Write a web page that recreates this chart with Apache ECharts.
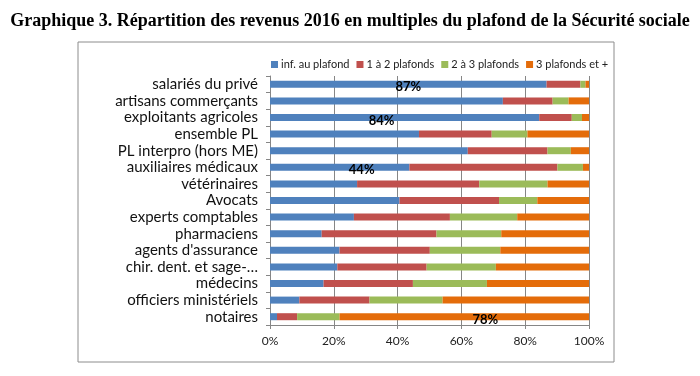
<!DOCTYPE html>
<html>
<head>
<meta charset="utf-8">
<script src="https://cdn.jsdelivr.net/npm/echarts@6/dist/echarts.min.js"></script>
<style>
  html, body { margin: 0; padding: 0; background: #fff; }
  #chart { width: 700px; height: 376px; }
</style>
</head>
<body>
<div id="chart"></div>
<script>
var categories = ['salariés du privé', 'artisans commerçants', 'exploitants agricoles', 'ensemble PL',
  'PL interpro (hors ME)', 'auxiliaires médicaux', 'vétérinaires', 'Avocats', 'experts comptables',
  'pharmaciens', "agents d'assurance", 'chir. dent. et sage-…', 'médecins', 'officiers ministériels', 'notaires'];

var infPlafond   = [86.7, 73.0, 84.4, 46.7, 62.0, 43.7, 27.3, 40.6, 26.3, 16.2, 21.8, 21.1, 16.8, 9.2, 2.2];
var un2Plafonds  = [10.6, 15.6, 10.2, 22.8, 25.0, 46.4, 38.3, 31.2, 30.1, 36.0, 28.3, 28.0, 28.0, 22.0, 6.3];
var deux3Plafonds = [1.6, 5.0, 3.2, 11.2, 7.3, 8.0, 21.4, 12.0, 21.1, 20.3, 22.1, 21.7, 23.2, 22.9, 13.3];
var troisPlus    = [1.1, 6.4, 2.2, 19.3, 5.7, 1.9, 13.0, 16.2, 22.5, 27.5, 27.8, 29.2, 32.0, 45.9, 78.2];

var seriesNames = ['inf. au plafond', '1 à 2 plafonds', '2 à 3 plafonds', '3 plafonds et +'];
var colors = ['#4F81BD', '#C0504D', '#9BBB59', '#E46C0A'];

// which cells carry a percentage label (series index, category index, horizontal shift)
var labelled = [[0, 0, 0], [0, 2, -23], [0, 5, 22], [3, 14, 21]];

var chart = echarts.init(document.getElementById('chart'));

function buildData(values, s) {
  return values.map(function (v, i) {
    var hit = labelled.filter(function (l) { return l[0] === s && l[1] === i; })[0];
    if (!hit) return v;
    return {
      value: v,
      label: {
        show: true,
        position: 'inside',
        offset: [hit[2], 3],
        formatter: Math.round(v) + '%',
        color: '#000',
        fontFamily: 'Lato',
        fontWeight: 'bold',
        fontSize: 13
      }
    };
  });
}

var allValues = [infPlafond, un2Plafonds, deux3Plafonds, troisPlus];

var hiddenAxis = { show: false, gridIndex: 1, type: 'value', min: 0, max: 1 };

var option = {
  animation: false,
  title: {
    text: 'Graphique 3. Répartition des revenus 2016 en multiples du plafond de la Sécurité sociale',
    left: 'center',
    top: 7,
    textStyle: {
      fontFamily: 'Liberation Serif',
      fontWeight: 'bold',
      fontSize: 18,
      color: '#000'
    }
  },
  legend: {
    data: seriesNames,
    left: 266,
    top: 54,
    itemWidth: 7,
    itemHeight: 7,
    itemGap: 7,
    icon: 'rect',
    textStyle: { fontFamily: 'Lato', fontSize: 11, color: '#222', padding: [0, 0, 0, -2] }
  },
  grid: [{
    left: 270,
    right: 111,
    top: 76,
    bottom: 51
  }, {
    // outer chart-area frame
    left: 78,
    top: 42,
    width: 536,
    height: 320,
    show: true,
    backgroundColor: 'transparent',
    borderColor: '#8c8c8c',
    borderWidth: 1,
    z: 0
  }],
  xAxis: [{
    type: 'value',
    min: 0,
    max: 100,
    interval: 20,
    axisLabel: {
      formatter: '{value}%',
      fontFamily: 'Lato',
      fontSize: 12,
      color: '#222',
      margin: 10
    },
    axisLine: { show: true, lineStyle: { color: '#868686' } },
    axisTick: { show: true, length: 4, lineStyle: { color: '#868686' } },
    splitLine: { show: true, lineStyle: { color: '#868686' } }
  }, hiddenAxis],
  yAxis: [{
    type: 'category',
    inverse: true,
    data: categories,
    axisLabel: {
      interval: 0,
      fontFamily: 'Lato',
      fontSize: 15,
      color: '#111',
      margin: 12
    },
    axisLine: { show: true, lineStyle: { color: '#868686' } },
    axisTick: { show: true, length: 4, lineStyle: { color: '#868686' } }
  }, hiddenAxis],
  series: allValues.map(function (vals, s) {
    return {
      name: seriesNames[s],
      type: 'bar',
      stack: 'total',
      barWidth: 7,
      data: buildData(vals, s),
      itemStyle: { color: colors[s] }
    };
  })
};

chart.setOption(option);
</script>
</body>
</html>
